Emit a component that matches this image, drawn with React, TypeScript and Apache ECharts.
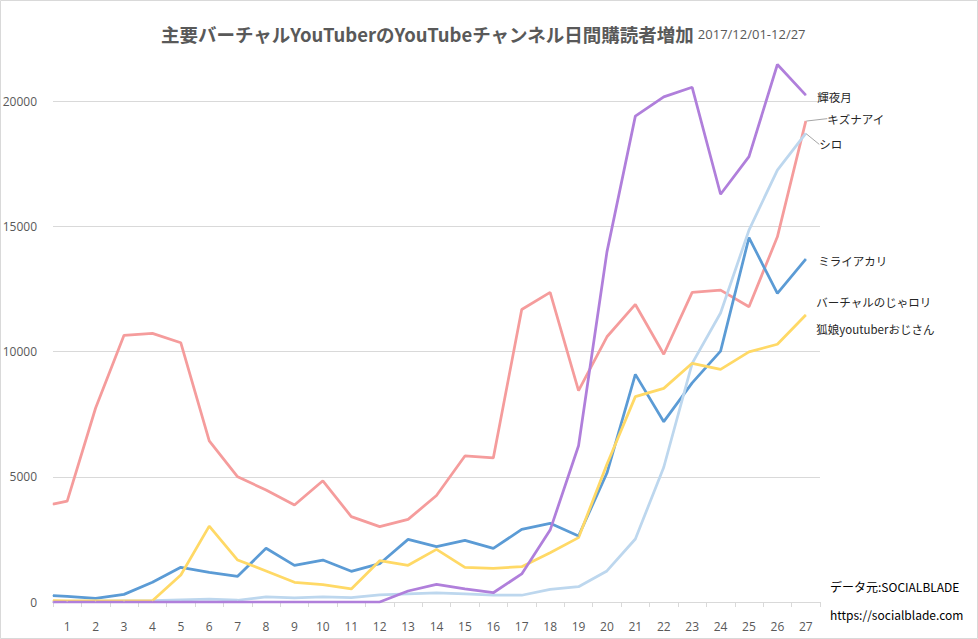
import React, { useEffect, useRef } from "react";
import * as echarts from "echarts";

// Tick labels (days of December 2017)
const days = [
  "1", "2", "3", "4", "5", "6", "7", "8", "9", "10", "11", "12", "13", "14",
  "15", "16", "17", "18", "19", "20", "21", "22", "23", "24", "25", "26", "27",
];

// Value at the left edge of the plot (line start before day 1)
const kaguyaStart = 0;
const kizunaStart = 3910;
const siroStart = 0;
const miraiStart = 250;
const nojaStart = 50;

// Daily subscriber increase, days 1..27
const kaguya = [
  0, 0, 0, 0, 0, 0, 0, 0, 0, 0, 0, 0, 440, 705, 520, 370, 1120, 2870, 6240,
  13980, 19400, 20170, 20550, 16280, 17780, 21460, 20240,
];
const kizuna = [
  4030, 7745, 10650, 10725, 10350, 6430, 5000, 4470, 3870, 4840, 3410, 3010,
  3300, 4250, 5830, 5750, 11680, 12360, 8440, 10590, 11880, 9890, 12360, 12450,
  11790, 14580, 19200,
];
const siro = [
  20, 30, 40, 50, 80, 110, 70, 200, 160, 200, 170, 280, 320, 360, 320, 270,
  270, 505, 610, 1240, 2515, 5380, 9530, 11540, 14850, 17245, 18710,
];
const mirai = [
  225, 145, 305, 785, 1385, 1185, 1025, 2145, 1465, 1675, 1225, 1530, 2500,
  2210, 2460, 2140, 2900, 3140, 2635, 5150, 9090, 7200, 8750, 10020, 14550,
  12320, 13690,
];
const noja = [
  40, 40, 40, 50, 1080, 3030, 1675, 1240, 785, 690, 520, 1650, 1465, 2100,
  1385, 1345, 1410, 1970, 2570, 5500, 8200, 8530, 9530, 9290, 9990, 10290,
  11460,
];

const yTicks = { min: 0, max: 22000, interval: 5000 };

const CJK = "'Noto Sans CJK JP', 'Noto Sans', sans-serif";
const NUM = "'Open Sans', 'Noto Sans', sans-serif";

type LabelCfg = {
  text: string;
  distance: number;
  dx: number;
  dy: number;
  guide: boolean;
  lineHeight?: number;
};

function makeSeries(
  name: string,
  start: number,
  values: number[],
  color: string,
  lab: LabelCfg
) {
  const pts: any[] = [[0, start]];
  values.forEach((v, i) => {
    const p = [i + 0.5, v];
    if (i === values.length - 1) {
      pts.push({
        value: p,
        label: {
          show: true,
          position: "right",
          distance: lab.distance,
          formatter: lab.text,
          fontSize: 11.5,
          lineHeight: lab.lineHeight ?? 16,
          color: "#262626",
          fontFamily: CJK,
        },
      });
    } else {
      pts.push(p);
    }
  });
  return {
    type: "line",
    name,
    xAxisIndex: 0,
    yAxisIndex: 0,
    symbol: "circle",
    symbolSize: 1,
    showSymbol: true,
    itemStyle: { color },
    lineStyle: { color, width: 2.75 },
    label: { show: false },
    labelLayout: { dx: lab.dx, dy: lab.dy },
    labelLine: {
      show: lab.guide,
      lineStyle: { color: "#A6A6A6", width: 1 },
    },
    emphasis: { disabled: true },
    data: pts,
  };
}

export default function App() {
  const ref = useRef<HTMLDivElement>(null);
  useEffect(() => {
    if (!ref.current) return;
    const chart = echarts.init(ref.current, undefined, { renderer: "svg" });
    const option: any = {
      animation: false,
      backgroundColor: "#ffffff",
      title: {
        text:
          "{a|主要バーチャルYouTuberのYouTubeチャンネル日間購読者増加}{b| 2017/12/01-12/27}",
        left: 161,
        top: 25,
        padding: 0,
        textStyle: {
          rich: {
            a: {
              fontSize: 18.5,
              fontFamily: CJK,
              color: "#595959",
              fontWeight: "bold",
            },
            b: {
              fontSize: 13,
              fontFamily: NUM,
              color: "#595959",
              fontWeight: "normal",
            },
          },
        },
      },
      grid: {
        left: 53,
        right: 158,
        top: 51,
        bottom: 37,
        containLabel: false,
        outerBoundsMode: "none",
      },
      xAxis: [
        {
          type: "value",
          position: "bottom",
          min: 0,
          max: days.length,
          interval: 1,
          axisLine: { show: true, lineStyle: { color: "#D9D9D9", width: 1 } },
          axisTick: { show: true, length: 5, lineStyle: { color: "#D9D9D9" } },
          axisLabel: { show: false },
          splitLine: { show: false },
        },
        {
          type: "category",
          position: "bottom",
          data: days,
          boundaryGap: true,
          axisLine: { show: false },
          axisTick: { show: false },
          axisLabel: {
            interval: 0,
            margin: 18,
            fontSize: 12,
            color: "#595959",
            fontFamily: NUM,
          },
          splitLine: { show: false },
        },
      ],
      yAxis: {
        type: "value",
        min: yTicks.min,
        max: yTicks.max,
        interval: yTicks.interval,
        axisLine: { show: false },
        axisTick: { show: false },
        axisLabel: {
          margin: 16,
          fontSize: 12,
          color: "#595959",
          fontFamily: NUM,
          showMaxLabel: false,
          formatter: (v: number) => String(v),
        },
        splitLine: {
          show: true,
          showMaxLine: false,
          lineStyle: { color: "#D9D9D9", width: 1 },
        },
      },
      graphic: [
        {
          type: "rect",
          silent: true,
          shape: { x: 0.5, y: 0.5, width: 977, height: 638 },
          style: { fill: "none", stroke: "#D9D9D9", lineWidth: 1 },
        },
        {
          type: "text",
          x: 830,
          y: 586,
          style: {
            text: "データ元:SOCIALBLADE",
            fontSize: 12,
            fontFamily: CJK,
            fill: "#000000",
            verticalAlign: "middle",
          },
        },
        {
          type: "text",
          x: 830,
          y: 614,
          style: {
            text: "https://socialblade.com",
            fontSize: 12,
            fontFamily: CJK,
            fill: "#000000",
            verticalAlign: "middle",
          },
        },
      ],
      series: [
        makeSeries("キズナアイ", kizunaStart, kizuna, "#F59C9C", {
          text: "キズナアイ",
          distance: 5,
          dx: 16,
          dy: -2.5,
          guide: true,
        }),
        makeSeries("ミライアカリ", miraiStart, mirai, "#5B9BD5", {
          text: "ミライアカリ",
          distance: 12,
          dx: 0,
          dy: 2,
          guide: false,
        }),
        makeSeries("シロ", siroStart, siro, "#BDD7EE", {
          text: "シロ",
          distance: 5,
          dx: 8,
          dy: 11,
          guide: true,
        }),
        makeSeries("バーチャルのじゃロリ狐娘youtuberおじさん", nojaStart, noja, "#FFD966", {
          text: "バーチャルのじゃロリ\n狐娘youtuberおじさん",
          distance: 10,
          dx: 0,
          dy: 0.5,
          guide: false,
          lineHeight: 27,
        }),
        makeSeries("輝夜月", kaguyaStart, kaguya, "#B07FDB", {
          text: "輝夜月",
          distance: 11,
          dx: 0,
          dy: 2,
          guide: false,
        }),
      ],
    };
    chart.setOption(option);
    return () => chart.dispose();
  }, []);
  return (
    <div
      ref={ref}
      style={{
        position: "fixed",
        left: 0,
        top: 0,
        width: 978,
        height: 639,
        background: "#fff",
      }}
    />
  );
}
